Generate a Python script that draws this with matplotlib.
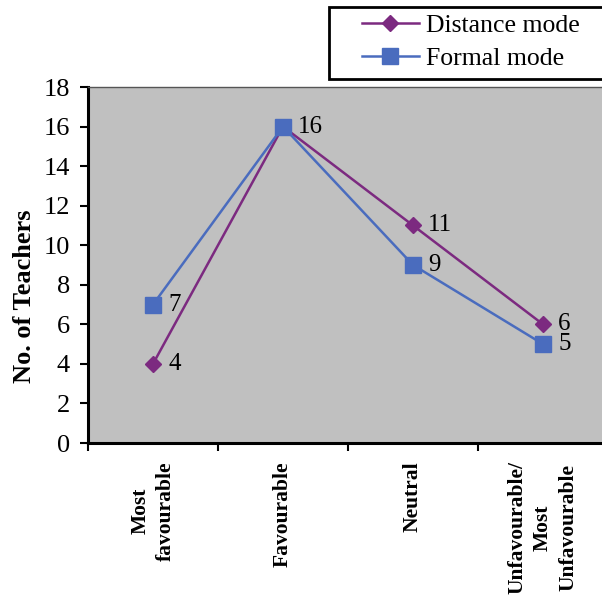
import matplotlib
matplotlib.use('Agg')
import matplotlib.pyplot as plt
from matplotlib.patches import Rectangle
import numpy as np

# %% Data

categories = ['Most\nfavourable', 'Favourable', 'Neutral',
              'Unfavourable/\nMost\nUnfavourable']
distanceMode = [4, 16, 11, 6]
formalMode = [7, 16, 9, 5]
yTicks = list(range(0, 20, 2))

# %% Style

plt.rcParams['font.family'] = ['Liberation Serif', 'DejaVu Serif']
purple = '#7C2A80'
blue = '#4A6CBE'

fig = plt.figure(figsize=(6.02, 5.98), dpi=100)
ax = fig.add_axes([88/602, (598-443)/598, 520/602, (443-87)/598])
ax.set_facecolor('#C0C0C0')

xPos = np.arange(len(categories))

#Plot lines
ax.plot(xPos, distanceMode, color=purple, lw=1.8, marker='D', ms=8.2,
        label='Distance mode', zorder=3)
ax.plot(xPos, formalMode, color=blue, lw=1.8, marker='s', ms=11.3,
        label='Formal mode', zorder=4)

#Data labels (skip duplicates at same spot)
done = set()
for series in [formalMode, distanceMode]:
    for xx, yy in zip(xPos, series):
        if (xx, yy) in done:
            continue
        done.add((xx, yy))
        ax.annotate(str(yy), (xx, yy), xytext=(11, 0), textcoords='offset points',
                    ha='left', va='center', fontsize=18, zorder=5)

#Axes limits and ticks
ax.set_xlim(-0.5, len(categories) - 0.5)
ax.set_ylim(0, 18)
ax.set_yticks(yTicks)
ax.tick_params(axis='y', direction='out', length=6, width=1.5, pad=7,
               labelsize=19)
ax.set_xticks(xPos)
ax.set_xticklabels(categories, rotation=90, ha='center', va='top',
                   multialignment='center', fontsize=15.5, fontweight='bold',
                   linespacing=1.35)
ax.set_xticks(np.arange(len(categories) + 1) - 0.5, minor=True)
ax.tick_params(axis='x', which='major', length=0, pad=13)
ax.tick_params(axis='x', which='minor', direction='out', length=6, width=1.5)

ax.set_ylabel('No. of Teachers', fontsize=19, fontweight='bold')
ax.yaxis.set_label_coords(-0.1, 0.413)

#Spines
ax.spines['left'].set_linewidth(2.2)
ax.spines['bottom'].set_linewidth(2.2)
ax.spines['top'].set_linewidth(1.0)
ax.spines['top'].set_color('#555555')
ax.spines['right'].set_visible(False)

#Legend box drawn separately (wide left padding, runs off the right edge)
fig.patches.append(Rectangle((329/602, 1 - 79/598), 290/602, 72/598,
                             transform=fig.transFigure, facecolor='white',
                             edgecolor='black', linewidth=2, zorder=1))
leg = fig.legend(loc='upper left', bbox_to_anchor=(362/602, 1 - 14/598),
                 fontsize=18.5, frameon=False, handlelength=2.2,
                 handletextpad=0.3, labelspacing=0.39, borderpad=0,
                 borderaxespad=0)
leg.set_zorder(2)

fig.savefig('out.png', dpi=100)
